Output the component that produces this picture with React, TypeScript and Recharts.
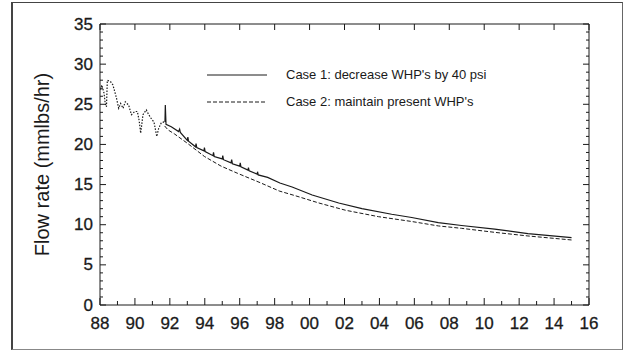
import React from 'react';
import { LineChart, Line, XAxis, YAxis, Legend } from 'recharts';

// historical (dotted) record, 1988 to mid-1991
const histYears = [
  88.04, 88.1, 88.23, 88.3, 88.37, 88.42, 88.61, 88.74, 88.93, 89.07, 89.18, 89.32, 89.45,
  89.64, 89.8, 89.99, 90.14, 90.24, 90.33, 90.46, 90.65, 90.79, 90.94, 91.09, 91.25, 91.36,
  91.51, 91.67,
];
const histRate = [
  26.8, 27.4, 26.4, 25.1, 24.7, 28.0, 27.8, 27.4, 25.9, 24.5, 25.1, 24.5, 25.3,
  24.9, 23.7, 24.1, 24.1, 23.0, 21.4, 23.7, 24.3, 23.7, 23.2, 22.8, 21.0, 22.0,
  22.7, 22.8,
];

// Case 1: decrease WHP's by 40 psi (solid, with semi-annual spikes)
const case1Years = [
  91.72, 91.74, 91.78, 92.08, 92.5, 92.56, 92.6, 93.0, 93.03, 93.07, 93.47, 93.5, 93.54,
  93.95, 93.98, 94.02, 94.47, 94.5, 94.54, 95.0, 95.03, 95.07, 95.5, 95.54, 95.58, 96.0,
  96.03, 96.07, 96.47, 96.5, 96.54, 97.0, 97.02, 97.06, 97.6, 98.3, 99.0, 100.15, 101.67,
  103.0, 104.7, 105.85, 107.37, 108.7, 110.6, 112.5, 115.0,
];
const case1Rate = [
  22.8, 24.9, 22.5, 22.2, 21.6, 21.9, 21.5, 20.5, 20.9, 20.4, 19.7, 20.1, 19.6,
  19.2, 19.6, 19.1, 18.6, 19.0, 18.5, 18.2, 18.6, 18.1, 17.7, 18.1, 17.6, 17.3,
  17.7, 17.2, 16.8, 17.1, 16.7, 16.3, 16.6, 16.2, 15.9, 15.2, 14.7, 13.7, 12.7,
  12.0, 11.3, 10.9, 10.25, 9.9, 9.45, 8.9, 8.4,
];

// Case 2: maintain present WHP's (dashed)
const case2Years = [
  91.7, 91.9, 92.27, 93.03, 93.98, 94.93, 95.88, 97.21, 98.26, 99.2, 100.54, 102.06,
  103.95, 105.85, 107.37, 108.7, 110.6, 112.5, 115.0,
];
const case2Rate = [
  22.3, 21.8, 21.3, 20.1, 18.5, 17.3, 16.4, 15.2, 14.2, 13.6, 12.7, 11.8,
  11.0, 10.4, 9.85, 9.55, 9.05, 8.6, 8.1,
];

const yearTicks = Array.from({ length: 29 }, (_, i) => 88 + i);
const rateTicks = Array.from({ length: 36 }, (_, i) => i);
const legendItems = [
  { label: "Case 1: decrease WHP's by 40 psi", dash: undefined as string | undefined },
  { label: "Case 2: maintain present WHP's", dash: '4 2' },
];

const histData = histYears.map((year, i) => ({ year, rate: histRate[i] }));
const case1Data = case1Years.map((year, i) => ({ year, rate: case1Rate[i] }));
const case2Data = case2Years.map((year, i) => ({ year, rate: case2Rate[i] }));

const INK = '#1a1a1a';
const FONT = 'Arial, "Liberation Sans", sans-serif';

const yearLabel = (v: number) => String(v % 100).padStart(2, '0');

const BottomTick = ({ x, y, payload }: any) => {
  const v = payload.value;
  const major = v % 2 === 0;
  return (
    <g>
      <line x1={x} y1={y} x2={x} y2={y - (major ? 7 : 4)} stroke={INK} strokeWidth={1} />
      {major && (
        <text x={x} y={y + 18} textAnchor="middle" dominantBaseline="central"
          fontSize={17} fontFamily={FONT} fill={INK} stroke={INK} strokeWidth={0.3}>
          {yearLabel(v)}
        </text>
      )}
    </g>
  );
};

const TopTick = ({ x, y, payload }: any) => {
  if (payload.value % 2 !== 0) return <g />;
  return <line x1={x} y1={y} x2={x} y2={y + 6} stroke={INK} strokeWidth={1} />;
};

const LeftTick = ({ x, y, payload }: any) => {
  const v = payload.value;
  const major = v % 5 === 0;
  return (
    <g>
      <line x1={x} y1={y} x2={x + (major ? 6 : 3)} y2={y} stroke={INK} strokeWidth={1} />
      {major && (
        <text x={x - 7} y={y} textAnchor="end" dominantBaseline="central"
          fontSize={17} fontFamily={FONT} fill={INK} stroke={INK} strokeWidth={0.3}>
          {v}
        </text>
      )}
    </g>
  );
};

const RightTick = ({ x, y, payload }: any) => {
  const major = payload.value % 5 === 0;
  return <line x1={x} y1={y} x2={x - (major ? 6 : 3)} y2={y} stroke={INK} strokeWidth={1} />;
};

const LegendBox = () => (
  <div style={{ fontFamily: FONT, fontSize: 13, color: INK }}>
    {legendItems.map((item) => (
      <div key={item.label} style={{ display: 'flex', alignItems: 'center', height: 27 }}>
        <svg width={60} height={4} style={{ marginRight: 19 }}>
          <line x1={0} y1={2} x2={60} y2={2} stroke={INK} strokeWidth={1} strokeDasharray={item.dash} />
        </svg>
        <span>{item.label}</span>
      </div>
    ))}
  </div>
);

const AxisTitle = ({ viewBox }: any) => {
  const cx = 42;
  const cy = viewBox.y + viewBox.height / 2;
  return (
    <text x={cx} y={cy} transform={`rotate(-90 ${cx} ${cy})`} textAnchor="middle"
      dominantBaseline="central" fontSize={20} fontFamily={FONT} fill={INK}>
      Flow rate (mmlbs/hr)
    </text>
  );
};

export default function App() {
  return (
    <div style={{ position: 'absolute', left: 0, top: 0, width: 627, height: 351, background: '#fff' }}>
      <div style={{
        position: 'absolute', left: 11, top: 2, width: 609, height: 346,
        borderTop: '1px solid #444', borderLeft: '2px solid #444', borderRight: '1px solid #666',
        borderBottom: '1px solid #888', pointerEvents: 'none',
      }} />
      <LineChart width={627} height={351} margin={{ top: 14, right: 28, bottom: 16, left: 40 }}>
        <XAxis xAxisId="bottom" dataKey="year" type="number" domain={[88, 116]} ticks={yearTicks}
          interval={0} allowDataOverflow height={30} tickSize={0} tickMargin={0} tickLine={false}
          axisLine={{ stroke: INK }} tick={<BottomTick />} />
        <XAxis xAxisId="top" orientation="top" dataKey="year" type="number" domain={[88, 116]}
          ticks={yearTicks} interval={0} allowDataOverflow height={10} tickSize={0} tickMargin={0}
          tickLine={false} axisLine={{ stroke: INK }} tick={<TopTick />} />
        <YAxis yAxisId="left" type="number" domain={[0, 35]} ticks={rateTicks} interval={0}
          allowDataOverflow width={60} tickSize={0} tickMargin={0} tickLine={false}
          axisLine={{ stroke: INK }} tick={<LeftTick />} label={<AxisTitle />} />
        <YAxis yAxisId="right" orientation="right" type="number" domain={[0, 35]} ticks={rateTicks}
          interval={0} allowDataOverflow width={10} tickSize={0} tickMargin={0} tickLine={false}
          axisLine={{ stroke: INK }} tick={<RightTick />} />
        <Legend verticalAlign="middle" align="center" content={<LegendBox />}
          wrapperStyle={{ position: 'absolute', left: 207, top: 61, width: 320 }} />
        <Line data={histData} dataKey="rate" xAxisId="bottom" yAxisId="left" type="linear"
          stroke={INK} strokeWidth={1.2} strokeDasharray="1.5 1.5" dot={false}
          isAnimationActive={false} legendType="none" />
        <Line data={case1Data} dataKey="rate" xAxisId="bottom" yAxisId="left" type="linear"
          stroke={INK} strokeWidth={1.2} dot={false} isAnimationActive={false} />
        <Line data={case2Data} dataKey="rate" xAxisId="bottom" yAxisId="left" type="linear"
          stroke={INK} strokeWidth={1} strokeDasharray="4 2" dot={false} isAnimationActive={false} />
      </LineChart>
    </div>
  );
}
